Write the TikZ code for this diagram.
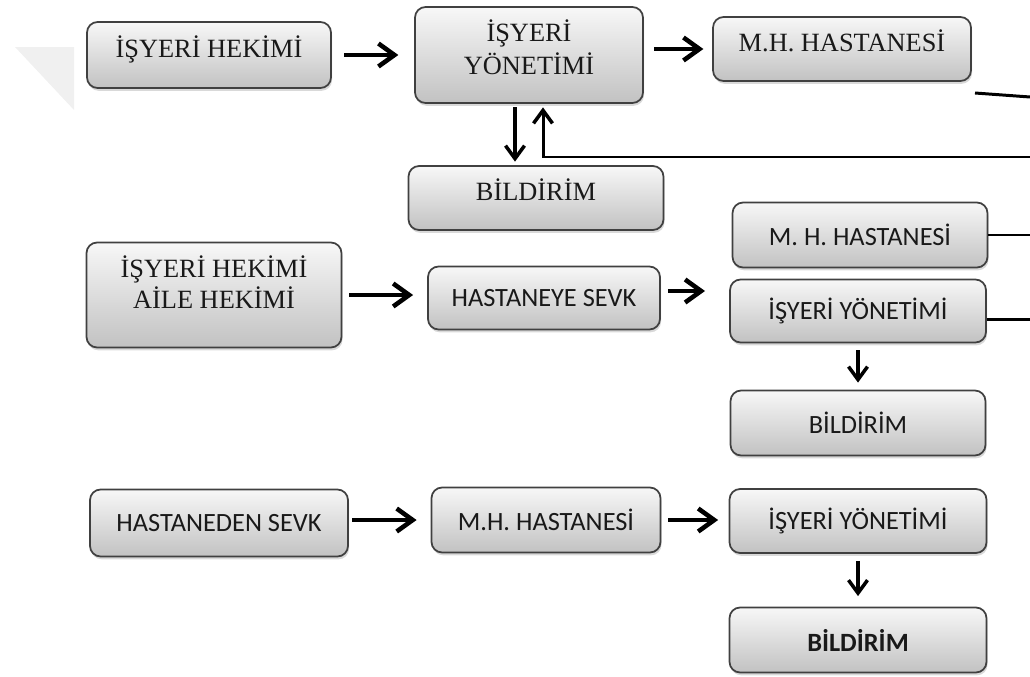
\documentclass[tikz,border=0pt]{standalone}
\usepackage{fontspec}
\setmainfont{Liberation Serif}
\newfontfamily\calibri{Carlito}
\usetikzlibrary{arrows.meta,shadows,positioning}

\begin{document}
\begin{tikzpicture}[x=0.02cm,y=-0.02cm,
  box/.style={draw=black!75,line width=1pt,rounded corners=6pt,
    top color=black!3,bottom color=black!24,text=black!90,
    drop shadow={opacity=0.3,shadow xshift=0.6pt,shadow yshift=-1.6pt},
    align=center,inner sep=0pt},
  serifbox/.style={box,font=\fontsize{15}{18.8}\selectfont,text depth=9pt},
  sansbox/.style={box,font=\calibri\fontsize{15}{18}\selectfont},
  arr/.style={line width=2.6pt,shorten <=4pt,shorten >=7pt,
    -{Straight Barb[length=3.2mm,width=4.6mm,line width=2.6pt]}},
  varr/.style={line width=1.8pt,
    -{Straight Barb[length=2.6mm,width=3.8mm,line width=2pt]}},
  feed/.style={line width=1.7pt}]
  \useasboundingbox (0,0) rectangle (1030,676);
  % faint mark top left
  \fill[black!6] (15,47) -- (74,47) -- (74,110) -- cycle;

  % first row
  \node[serifbox,minimum width=4.88cm,minimum height=1.32cm] (hek1) at (209,55) {İŞYERİ HEKİMİ};
  \node[serifbox,minimum width=4.56cm,minimum height=1.92cm] (yon1) at (529,55) {İŞYERİ\\YÖNETİMİ};
  \node[serifbox,minimum width=5.16cm,minimum height=1.28cm] (has1) at (842,49) {M.H. HASTANESİ};
  \node[serifbox,minimum width=5.1cm,minimum height=1.28cm] (bil1) at (536,198) {BİLDİRİM};

  % second row
  \node[serifbox,minimum width=5.1cm,minimum height=2.1cm,font=\fontsize{15}{17.6}\selectfont,text depth=15pt] (hek2) at (214,295) {İŞYERİ HEKİMİ\\AİLE HEKİMİ};
  \node[sansbox,minimum width=4.64cm,minimum height=1.26cm] (sevk2) at (544,298) {HASTANEYE SEVK};
  \node[sansbox,minimum width=5.1cm,minimum height=1.3cm] (has2) at (860,235) {M. H. HASTANESİ};
  \node[sansbox,minimum width=5.12cm,minimum height=1.26cm] (yon2) at (858,311) {İŞYERİ YÖNETİMİ};
  \node[sansbox,minimum width=5.1cm,minimum height=1.3cm] (bil2) at (858,423) {BİLDİRİM};

  % third row
  \node[sansbox,minimum width=5.16cm,minimum height=1.34cm] (sevk3) at (219,523) {HASTANEDEN SEVK};
  \node[sansbox,minimum width=4.58cm,minimum height=1.3cm] (has3) at (546,520) {M.H. HASTANESİ};
  \node[sansbox,minimum width=5.14cm,minimum height=1.28cm] (yon3) at (858,521) {İŞYERİ YÖNETİMİ};
  \node[sansbox,minimum width=5.14cm,minimum height=1.3cm,font=\calibri\bfseries\fontsize{15}{18}\selectfont] (bil3) at (858,640) {BİLDİRİM};

  % loose ends
  \coordinate (redge) at (1030,0);
  \coordinate (rt1a) at (975,93);
  \coordinate (rt1b) at (1030,97);
  \coordinate (rt2) at (1030,157);
  \coordinate (sevkend) at (705,291);
  \coordinate (upx) at ([xshift=0.28cm]yon1.south);

  % arrows
  \draw[arr,shorten <=7pt,shorten >=9pt] (hek1.east) -- (hek1.east -| yon1.west);
  \draw[arr,shorten <=6pt,shorten >=5pt] (yon1.east |- has1.west) -- (has1.west);
  \draw[varr,shorten <=2pt,shorten >=2pt] ([xshift=-0.28cm]yon1.south) -- ([xshift=-0.28cm]yon1.south |- bil1.north);
  \draw[feed,shorten >=2pt,-{Straight Barb[length=2.6mm,width=3.8mm,line width=2pt]}] (rt2) -- (rt2 -| upx) -- (upx);
  \draw[feed] (rt1a) -- (rt1b);

  \draw[arr,shorten >=8pt] (hek2.east) -- (hek2.east -| sevk2.west);
  \draw[arr,shorten >=0pt] (sevk2.east |- sevkend) -- (sevkend);
  \draw[feed] (has2.east) -- (has2.east -| redge);
  \draw[feed] ([yshift=-5pt]yon2.east) -- ([yshift=-5pt]yon2.east -| redge);
  \draw[varr,shorten <=4pt,shorten >=4pt] (yon2) -- (bil2);

  \draw[arr,shorten <=2pt,shorten >=8pt] (sevk3.east |- has3) -- (has3.west);
  \draw[arr,shorten >=6pt] (has3.east) -- (has3.east -| yon3.west);
  \draw[varr,shorten <=4pt,shorten >=6pt] (yon3) -- (bil3);
\end{tikzpicture}
\end{document}
